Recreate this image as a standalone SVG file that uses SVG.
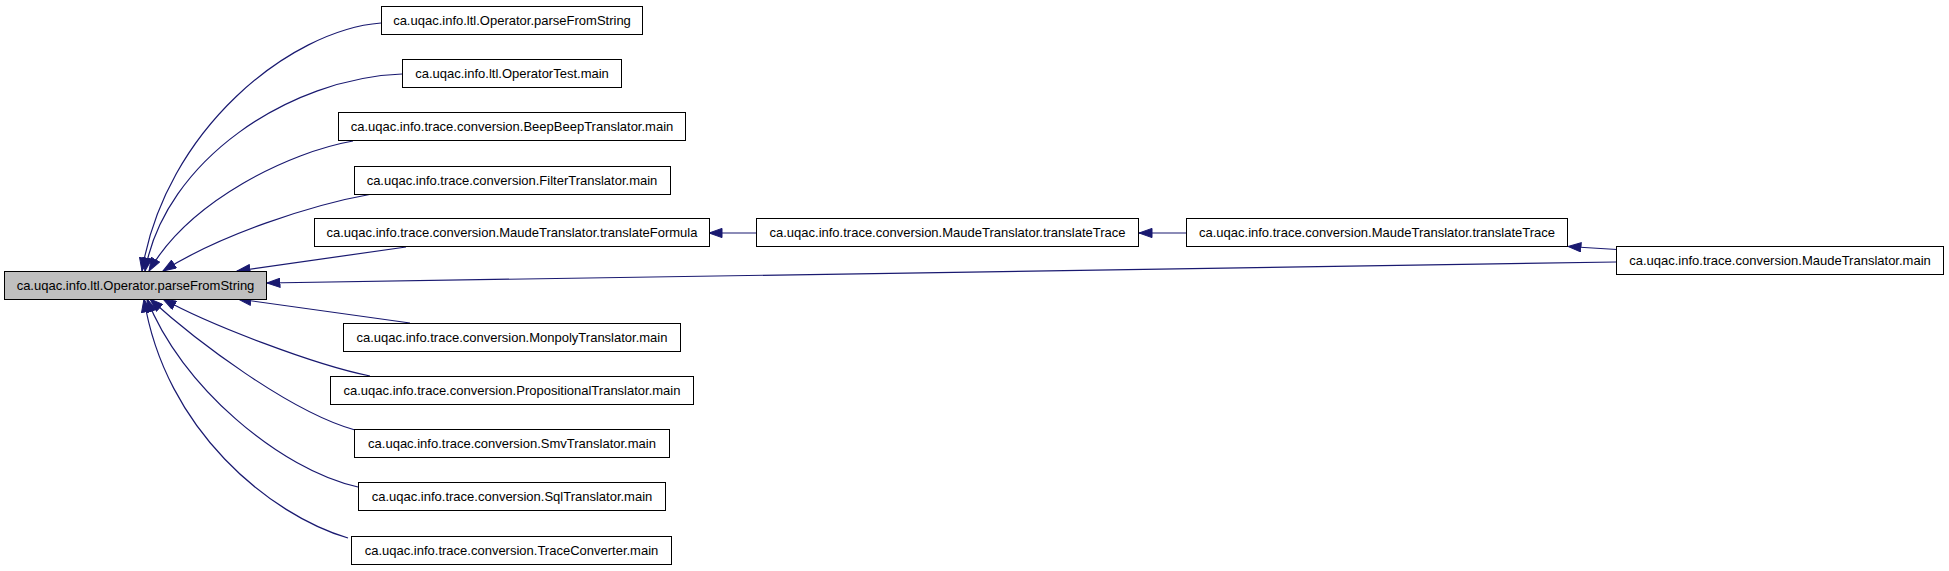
<svg xmlns="http://www.w3.org/2000/svg" width="1949" height="571" viewBox="0 0 1949 571">
<style>
.node rect{fill:#ffffff;stroke:#000000;stroke-width:1}
.node.main rect{fill:#bfbfbf}
.node text{font-family:"Liberation Sans",Arial,sans-serif;font-size:13px;fill:#000000;text-anchor:middle}
.edges path{fill:none;stroke:#191970;stroke-width:1.2}
</style>
<defs>
<marker id="arr" markerUnits="userSpaceOnUse" markerWidth="14" markerHeight="10" viewBox="0 0 14 10" refX="13.5" refY="5" orient="auto">
<path d="M0.5,0.4 L13.5,5 L0.5,9.6 Z" fill="#191970" stroke="#191970" stroke-width="1"/>
</marker>
</defs>
<rect x="0" y="0" width="1949" height="571" fill="#ffffff"/>
<g id="connectors" class="edges">
<path d="M381,23 C290,30 165,130 142,271" marker-end="url(#arr)"/>
<path d="M402,74 C290,78 165,160 145,271" marker-end="url(#arr)"/>
<path d="M353,141 C290,152 190,200 149,271" marker-end="url(#arr)"/>
<path d="M372,194 C310,205 220,235 163,271" marker-end="url(#arr)"/>
<path d="M406,247 L237,271" marker-end="url(#arr)"/>
<path d="M1616,262 L267,283" marker-end="url(#arr)"/>
<path d="M1617,249.5 L1568,246.5" marker-end="url(#arr)"/>
<path d="M1186,233 L1139,233" marker-end="url(#arr)"/>
<path d="M756,233 L709,233" marker-end="url(#arr)"/>
<path d="M410,323 L238,299" marker-end="url(#arr)"/>
<path d="M370,376 C315,365 210,325 163,299" marker-end="url(#arr)"/>
<path d="M355,430 C290,412 195,340 150,299" marker-end="url(#arr)"/>
<path d="M358,487 C280,470 180,385 147,299" marker-end="url(#arr)"/>
<path d="M348,538 C270,515 165,430 144,299" marker-end="url(#arr)"/>
</g>
<g id="node_main" class="node main"><rect x="4.5" y="271.5" width="262" height="28"/><text x="135.5" y="290">ca.uqac.info.ltl.Operator.parseFromString</text></g>
<g id="node_parseFromString" class="node"><rect x="381.5" y="6.5" width="261" height="28"/><text x="512" y="25">ca.uqac.info.ltl.Operator.parseFromString</text></g>
<g id="node_OperatorTest" class="node"><rect x="402.5" y="59.5" width="219" height="28"/><text x="512" y="78">ca.uqac.info.ltl.OperatorTest.main</text></g>
<g id="node_BeepBeep" class="node"><rect x="338.5" y="112.5" width="347" height="28"/><text x="512" y="131">ca.uqac.info.trace.conversion.BeepBeepTranslator.main</text></g>
<g id="node_Filter" class="node"><rect x="354.5" y="166.5" width="316" height="28"/><text x="512" y="185">ca.uqac.info.trace.conversion.FilterTranslator.main</text></g>
<g id="node_translateFormula" class="node"><rect x="314.5" y="218.5" width="395" height="28"/><text x="512" y="237">ca.uqac.info.trace.conversion.MaudeTranslator.translateFormula</text></g>
<g id="node_Monpoly" class="node"><rect x="343.5" y="323.5" width="337" height="28"/><text x="512" y="342">ca.uqac.info.trace.conversion.MonpolyTranslator.main</text></g>
<g id="node_Propositional" class="node"><rect x="330.5" y="376.5" width="363" height="28"/><text x="512" y="395">ca.uqac.info.trace.conversion.PropositionalTranslator.main</text></g>
<g id="node_Smv" class="node"><rect x="354.5" y="429.5" width="315" height="28"/><text x="512" y="448">ca.uqac.info.trace.conversion.SmvTranslator.main</text></g>
<g id="node_Sql" class="node"><rect x="358.5" y="482.5" width="307" height="28"/><text x="512" y="501">ca.uqac.info.trace.conversion.SqlTranslator.main</text></g>
<g id="node_TraceConverter" class="node"><rect x="351.5" y="536.5" width="320" height="28"/><text x="511.5" y="555">ca.uqac.info.trace.conversion.TraceConverter.main</text></g>
<g id="node_translateTrace1" class="node"><rect x="756.5" y="218.5" width="382" height="28"/><text x="947.5" y="237">ca.uqac.info.trace.conversion.MaudeTranslator.translateTrace</text></g>
<g id="node_translateTrace2" class="node"><rect x="1186.5" y="218.5" width="381" height="28"/><text x="1377" y="237">ca.uqac.info.trace.conversion.MaudeTranslator.translateTrace</text></g>
<g id="node_MaudeMain" class="node"><rect x="1616.5" y="246.5" width="327" height="28"/><text x="1780" y="265">ca.uqac.info.trace.conversion.MaudeTranslator.main</text></g>
</svg>
